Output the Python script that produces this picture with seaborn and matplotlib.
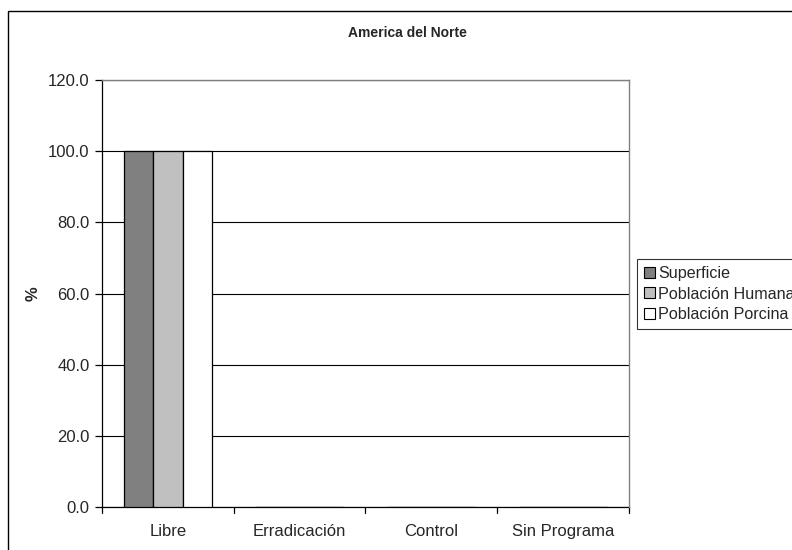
import matplotlib
matplotlib.use("Agg")
import matplotlib.pyplot as plt
import seaborn as sns
import pandas as pd
from matplotlib.patches import Rectangle

categories = ["Libre", "Erradicación", "Control", "Sin Programa"]
series_names = ["Superficie", "Población Humana", "Población Porcina"]
superficie = [100.0, 0.0, 0.0, 0.0]
poblacion_humana = [100.0, 0.0, 0.0, 0.0]
poblacion_porcina = [100.0, 0.0, 0.0, 0.0]
y_ticks = [0, 20, 40, 60, 80, 100, 120]
colors = ["#808080", "#C0C0C0", "#FFFFFF"]

df = pd.DataFrame({
    "categoria": categories * 3,
    "serie": sum([[s] * len(categories) for s in series_names], []),
    "valor": superficie + poblacion_humana + poblacion_porcina,
})

sns.set_style("white")
plt.rcParams["font.family"] = ["Liberation Sans", "DejaVu Sans"]

fig = plt.figure(figsize=(7.92, 5.5), dpi=100)
ax = fig.add_axes([0.1288, 0.0773, 0.6648, 0.7773])

sns.barplot(data=df, x="categoria", y="valor", hue="serie",
            order=categories, hue_order=series_names,
            palette=colors, width=0.669, edgecolor="black", linewidth=0.9,
            ax=ax, legend=False, zorder=3)

ax.set_xlim(-0.5, len(categories) - 0.5)
ax.set_ylim(0, 120)
ax.set_yticks(y_ticks)
ax.set_yticklabels([f"{v:.1f}" for v in y_ticks], fontsize=12)
ax.yaxis.grid(True, color="black", linewidth=0.8, zorder=0)
ax.set_axisbelow(True)

# category ticks sit between the groups
ax.set_xticks(range(len(categories)))
ax.set_xticklabels(categories, fontsize=12)
ax.tick_params(axis="x", length=0, pad=12)
for b in [i - 0.5 for i in range(len(categories) + 1)]:
    ax.plot([b, b], [0, -1.5], color="black", lw=0.9, clip_on=False,
            transform=ax.transData)
ax.tick_params(axis="y", length=5, width=0.9, color="black", left=True, pad=4)

for side in ["top", "right"]:
    ax.spines[side].set_color("#808080")
    ax.spines[side].set_linewidth(1.0)
    ax.spines[side].set_zorder(4)
ax.spines["left"].set_color("black")
ax.spines["bottom"].set_color("black")
ax.spines["left"].set_linewidth(0.9)
ax.spines["bottom"].set_linewidth(0.9)

ax.set_xlabel("")
ax.set_ylabel("%", fontsize=12, fontweight="bold")
ax.yaxis.set_label_coords(-0.116, 0.5)

fig.text(0.514, 0.94, "America del Norte", ha="center", va="center",
         fontsize=10, fontweight="bold")

# legend
handles = [Rectangle((0, 0), 1, 1, facecolor=c, edgecolor="black", linewidth=0.8)
           for c in colors]
leg = fig.legend(handles, series_names, loc="upper left",
                 bbox_to_anchor=(637 / 792, 1 - 259 / 550), fontsize=11.6,
                 frameon=True, fancybox=False, borderpad=0.45,
                 handlelength=0.68, handleheight=0.68, handletextpad=0.2,
                 labelspacing=0.33, borderaxespad=0)
leg.get_frame().set_edgecolor("black")
leg.get_frame().set_linewidth(0.8)

# outer chart frame
fig.add_artist(Rectangle((8 / 792, -0.1), 1.2, (550 - 11) / 550 + 0.1,
                         transform=fig.transFigure, fill=False,
                         edgecolor="black", linewidth=1.0))

fig.savefig("out.png", dpi=100)
